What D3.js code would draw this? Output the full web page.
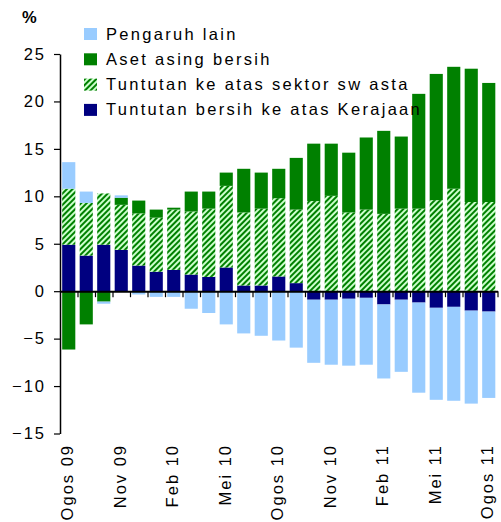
<!DOCTYPE html>
<html>
<head>
<meta charset="utf-8">
<script src="https://cdn.jsdelivr.net/npm/d3@7"></script>
<style>
  body { margin: 0; background: #fff; }
  text { font-family: Arial, "Liberation Sans", sans-serif; fill: #000; }
</style>
</head>
<body>
<div id="chart"></div>
<script>
// Data
const months = ["Ogos 09","Sep 09","Okt 09","Nov 09","Dis 09","Jan 10","Feb 10","Mac 10","Apr 10","Mei 10","Jun 10","Jul 10",
  "Ogos 10","Sep 10","Okt 10","Nov 10","Dis 10","Jan 11","Feb 11","Mac 11","Apr 11","Mei 11","Jun 11","Jul 11","Ogos 11"];
const kerajaan = [4.9, 3.75, 4.9, 4.35, 2.7, 2.05, 2.25, 1.75, 1.5, 2.5, 0.6, 0.6, 1.55, 0.85,
  -0.9, -0.9, -0.8, -0.7, -1.4, -0.9, -1.2, -1.75, -1.65, -2.05, -2.15];
const swasta = [5.9, 5.55, 5.4, 4.75, 5.5, 5.7, 6.35, 6.65, 7.2, 8.6, 7.7, 8.1, 8.25, 7.75,
  9.5, 10.05, 8.3, 8.6, 8.15, 8.7, 8.7, 9.6, 10.8, 9.4, 9.4];
const asetAsing = [-6.15, -3.5, -1.1, 0.75, 1.35, 0.85, 0.2, 2.1, 1.8, 1.4, 4.6, 3.8, 3.1, 5.45,
  6.05, 5.5, 6.3, 7.6, 8.75, 7.6, 12.1, 13.3, 12.85, 14.05, 12.55];
const lain = [2.8, 1.2, -0.22, 0.25, -0.35, -0.6, -0.6, -1.85, -2.3, -3.5, -4.45, -4.7, -5.2, -5.95,
  -6.65, -6.85, -7.05, -7.05, -7.8, -7.6, -9.5, -9.7, -9.9, -9.8, -9.1];
const yTicks = [-15, -10, -5, 0, 5, 10, 15, 20, 25];
const shownLabels = ["Ogos 09","Nov 09","Feb 10","Mei 10","Ogos 10","Nov 10","Feb 11","Mei 11","Ogos 11"];

const keys = ["kerajaan", "swasta", "asetAsing", "lain"];
const legendItems = [
  { key: "lain", label: "Pengaruh lain" },
  { key: "asetAsing", label: "Aset asing bersih" },
  { key: "swasta", label: "Tuntutan ke atas sektor sw asta" },
  { key: "kerajaan", label: "Tuntutan bersih ke atas Kerajaan" }
];
const fills = { lain: "#99ccff", asetAsing: "#008000", swasta: "url(#hatch)", kerajaan: "#000080" };

const table = months.map((m, i) => ({
  month: m, kerajaan: kerajaan[i], swasta: swasta[i], asetAsing: asetAsing[i], lain: lain[i]
}));

const width = 501;
const height = 522;
const margin = { top: 54, right: 3.5, bottom: 88.5, left: 60 };

const svg = d3.select("#chart")
  .append("svg")
  .attr("width", width)
  .attr("height", height);

// hatch pattern for the private sector series
const pat = svg.append("defs").append("pattern")
  .attr("id", "hatch")
  .attr("patternUnits", "userSpaceOnUse")
  .attr("width", 4)
  .attr("height", 4)
  .attr("patternTransform", "rotate(45)");
pat.append("rect").attr("width", 4).attr("height", 4).attr("fill", "#ccffcc");
pat.append("rect").attr("width", 2).attr("height", 4).attr("fill", "#008000");

// Scales
const x = d3.scaleBand()
  .domain(months)
  .range([margin.left, width - margin.right])
  .paddingInner(0.25)
  .paddingOuter(0.125);

const y = d3.scaleLinear()
  .domain([-15, 25])
  .range([height - margin.bottom, margin.top]);

const series = d3.stack()
  .keys(keys)
  .offset(d3.stackOffsetDiverging)(table);

svg.append("g")
  .selectAll("g")
  .data(series)
  .join("g")
  .attr("fill", d => fills[d.key])
  .selectAll("rect")
  .data(d => d)
  .join("rect")
  .attr("x", d => x(d.data.month))
  .attr("width", x.bandwidth())
  .attr("y", d => y(Math.max(d[0], d[1])))
  .attr("height", d => Math.abs(y(d[0]) - y(d[1])));

// Y axis
const yAxis = svg.append("g")
  .attr("transform", `translate(${margin.left},0)`)
  .call(d3.axisLeft(y).tickValues(yTicks).tickSize(6).tickSizeOuter(0).tickPadding(8));
yAxis.selectAll("text")
  .attr("font-size", 16.5)
  .attr("letter-spacing", "2px")
  .attr("font-family", "Arial, 'Liberation Sans', sans-serif");
yAxis.select(".domain").attr("stroke-width", 1.5);
yAxis.selectAll(".tick line").attr("stroke-width", 1.2);

// X axis on zero line, ticks on category boundaries
const xb = d3.scaleLinear().domain([0, months.length]).range(x.range());
const xAxis = svg.append("g")
  .attr("transform", `translate(0,${y(0)})`)
  .call(d3.axisBottom(xb).tickValues(d3.range(1, months.length + 1)).tickSize(6).tickSizeOuter(0).tickFormat(""));
xAxis.select(".domain").attr("stroke-width", 2);
xAxis.selectAll(".tick line").attr("stroke-width", 1.2);

// Month labels
svg.append("g")
  .selectAll("text")
  .data(shownLabels)
  .join("text")
  .attr("transform", d => `translate(${x(d) + x.bandwidth() / 2 - 1.5},444) rotate(-90)`)
  .attr("text-anchor", "end")
  .attr("dy", "0.35em")
  .attr("font-size", 16.5)
  .attr("letter-spacing", "2px")
  .text(d => d);

// % label
svg.append("text")
  .attr("x", 22)
  .attr("y", 23)
  .attr("font-size", 16.5)
  .attr("font-weight", "bold")
  .text("%");

// Legend
const legend = svg.append("g")
  .selectAll("g")
  .data(legendItems)
  .join("g")
  .attr("transform", (d, i) => `translate(84,${28 + i * 25.3})`);
legend.append("rect")
  .attr("width", 13)
  .attr("height", 12)
  .attr("fill", d => fills[d.key]);
legend.append("text")
  .attr("x", 22)
  .attr("y", 11.5)
  .attr("font-size", 16.5)
  .attr("letter-spacing", "2.3px")
  .text(d => d.label);
</script>
</body>
</html>
